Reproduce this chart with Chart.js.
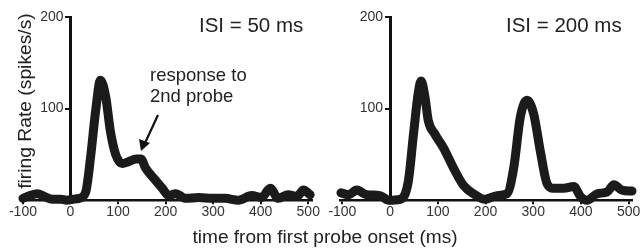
<!DOCTYPE html>
<html>
<head>
<meta charset="utf-8">
<script src="https://cdn.jsdelivr.net/npm/chart.js@4/dist/chart.umd.min.js"></script>
<style>
  body { margin: 0; background: #fff; }
  #wrap { position: relative; width: 641px; height: 248px; overflow: hidden; font-family: "Liberation Sans", Arial, sans-serif; color: #222; }
  canvas { position: absolute; top: 0; }
  .txt { position: absolute; white-space: nowrap; }
</style>
</head>
<body>
<div id="wrap">
  <canvas id="panel50" width="320" height="248" style="left:0"></canvas>
  <canvas id="panel200" width="321" height="248" style="left:320px"></canvas>

  <div class="txt" style="left:199px; top:15px; font-size:20.5px; line-height:20px;">ISI = 50 ms</div>
  <div class="txt" style="left:506px; top:15px; font-size:20.5px; line-height:20px;">ISI = 200 ms</div>
  <div class="txt" style="left:150px; top:64px; font-size:18.5px; line-height:21px;">response to<br>2nd probe</div>

  <div class="txt" style="left:325px; top:227px; font-size:18px; line-height:20px; transform:translateX(-50%) scaleX(1.06);">time from first probe onset (ms)</div>
  <div class="txt" style="left:25px; top:101px; font-size:18px; line-height:20px; transform:translate(-50%,-50%) rotate(-90deg) scaleX(1.07);">firing Rate (spikes/s)</div>

  <svg style="position:absolute; left:0; top:0;" width="641" height="248">
    <line x1="158" y1="115" x2="145" y2="143" stroke="#111" stroke-width="2.2"/>
    <polygon points="141,151 139,139 150,143" fill="#111"/>
  </svg>
</div>

<script>
// time axis ticks (ms) and rate ticks (spikes/s)
var timeTicks = [-100, 0, 100, 200, 300, 400, 500];
var rateTicks = [100, 200];

// ISI = 50 ms
var isi50Time = [-100, -85, -70, -55, -38, -20, -8, 5, 18, 32, 42, 53, 63, 74, 84, 95, 109, 122, 138, 148, 158, 175, 193, 207, 221, 242, 270, 298, 325, 353, 381, 402, 420, 437, 458, 476, 490, 504];
var isi50Rate = [2, 5, 7, 4, 1, 1, 0, 1, 2, 9, 46, 98, 131, 113, 75, 50, 40, 42, 45, 45, 35, 24, 13, 5, 7, 2, 3, 2, 2, 0, 5, 3, 13, 2, 6, 4, 11, 6];

// ISI = 200 ms
var isi200Time = [-103, -87, -70, -49, -21, -3, 21, 38, 49, 59, 65, 73, 80, 94, 112, 133, 154, 175, 199, 224, 245, 259, 273, 287, 301, 315, 329, 343, 364, 385, 399, 413, 434, 455, 469, 486, 507];
var isi200Rate = [8, 6, 11, 6, 5, 0, 1, 20, 72, 117, 130, 113, 87, 72, 57, 35, 16, 7, 1, 5, 7, 35, 91, 109, 94, 53, 18, 13, 13, 15, 4, 0, 7, 9, 17, 11, 10];

var FONT = "'Liberation Sans', Arial, sans-serif";

function setTicks(list) {
    return function(scale) {
        scale.ticks = list.map(function(v) { return {value: v}; });
    };
}

function makePanel(id, times, rates, xMin, pad) {
    var pts = times.map(function(t, i) { return {x: t, y: rates[i]}; });
    return new Chart(document.getElementById(id), {
        type: 'line',
        data: {
            datasets: [{
                data: pts,
                borderColor: '#1b1b1b',
                borderWidth: 9,
                pointRadius: 0,
                cubicInterpolationMode: 'monotone',
                borderCapStyle: 'round',
                borderJoinStyle: 'round',
                clip: false
            }]
        },
        options: {
            responsive: false,
            animation: false,
            layout: {autoPadding: false, padding: pad},
            plugins: {legend: {display: false}, tooltip: {enabled: false}},
            scales: {
                x: {
                    type: 'linear', min: xMin, max: 507,
                    afterBuildTicks: setTicks(timeTicks),
                    grid: {drawOnChartArea: false, drawTicks: true, tickLength: 4, color: '#111', lineWidth: 2},
                    border: {color: '#111', width: 2.5},
                    ticks: {padding: 0, color: '#333', font: {family: FONT, size: 14}, maxRotation: 0, autoSkip: false}
                },
                y: {
                    type: 'linear', min: 0, max: 200,
                    position: {x: 0},
                    afterBuildTicks: setTicks(rateTicks),
                    grid: {drawOnChartArea: false, drawTicks: true, tickLength: 4, color: '#111', lineWidth: 2},
                    border: {color: '#111', width: 3},
                    // labels sit right-aligned on the axis line, a trailing en space keeps them off it
                    ticks: {padding: 0, color: '#333', font: {family: FONT, size: 14},
                            callback: function(v) { return v + '\u2002'; }}
                }
            }
        }
    });
}

makePanel('panel50', isi50Time, isi50Rate, -102, {left: 22, right: 7, top: 17, bottom: 27});
makePanel('panel200', isi200Time, isi200Rate, -105, {left: 20, right: 9, top: 17, bottom: 27});
</script>
</body>
</html>
